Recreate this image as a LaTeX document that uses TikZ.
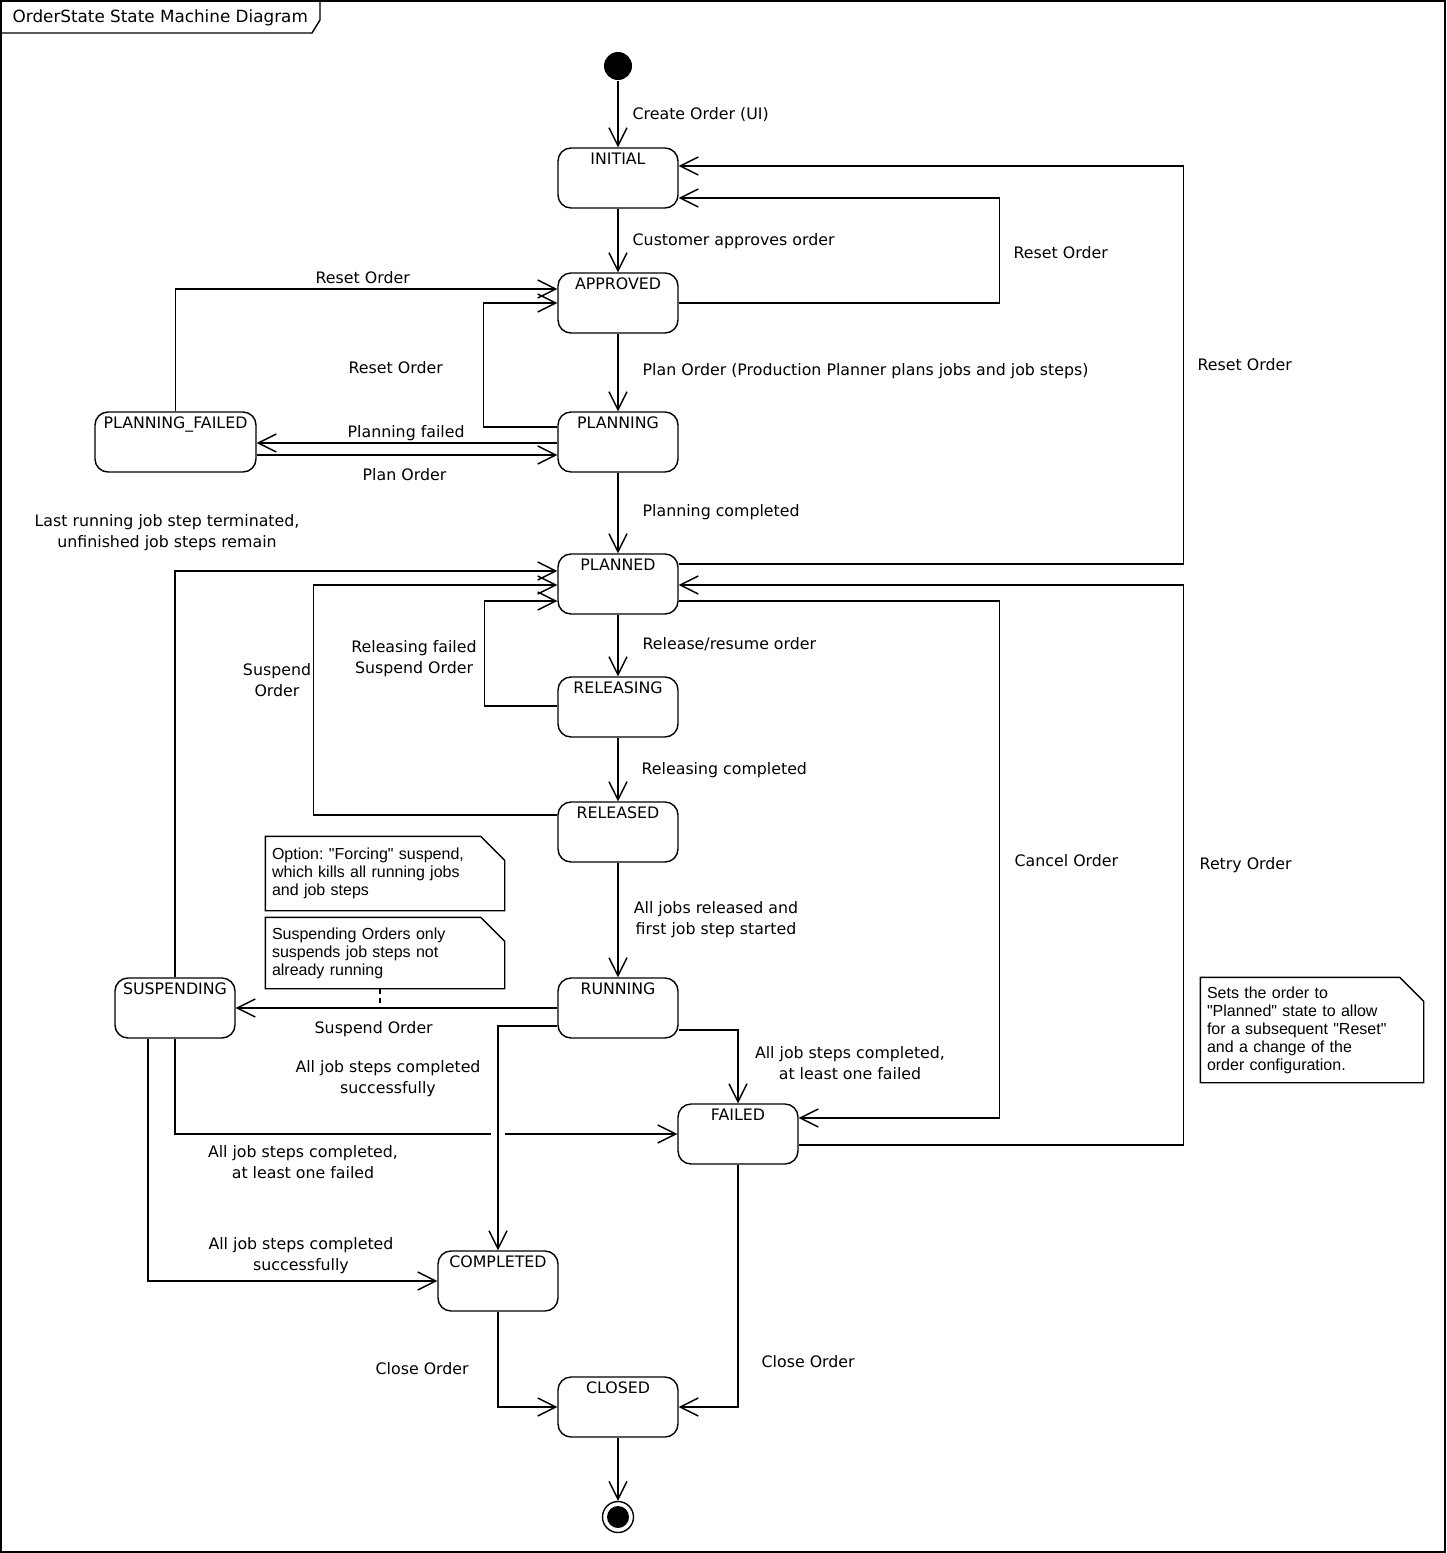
\documentclass[tikz,border=0pt]{standalone}
\usepackage{fontspec}
\setmainfont{DejaVu Sans}
\newfontfamily\notefont{Liberation Sans}
\usetikzlibrary{arrows.meta,calc}
\frenchspacing
\begin{document}
\begin{tikzpicture}[x=0.5pt,y=-0.5pt,
  font=\fontsize{7.9}{10.5}\selectfont,
  line width=0.7pt,
  state/.style={draw, rounded corners=6.5pt, minimum width=60pt, minimum height=30pt, inner sep=0pt},
  stname/.style={anchor=north, inner sep=0pt, yshift=-2.4pt},
  tr/.style={-{Straight Barb[length=9pt,width=9pt]}},
  lbl/.style={inner sep=0pt, anchor=west, yshift=-0.9pt},
  clbl/.style={inner sep=0pt, align=center, yshift=-0.9pt},
  note/.style={font=\notefont\fontsize{8}{9}\selectfont, align=left, inner xsep=3pt, inner ysep=2pt},
]
\newcommand\dogear[1]{\draw (#1.north west) -- ([xshift=-12pt]#1.north east) -- ([yshift=-12pt]#1.north east) -- (#1.south east) -- (#1.south west) -- cycle;}
\useasboundingbox (0,0) rectangle (1446,1553);
% frame
\draw (1,1) rectangle (1445,1552);
\draw (1,33) -- (312,33) -- (320,20) -- (320,1);
\node[lbl, font=\fontsize{8.4}{10.5}\selectfont] (title) at (12,16) {OrderState State Machine Diagram};

% states
\node[circle, fill, inner sep=0pt, minimum size=14pt] (init) at (618,66) {};
\node[state, label={[stname]north:INITIAL}] (initial) at (618,178) {};
\node[state, label={[stname]north:APPROVED}] (approved) at (618,303) {};
\node[state, label={[stname]north:PLANNING}] (planning) at (618,442) {};
\node[state, minimum width=80.5pt, label={[stname]north:PLANNING\_FAILED}] (pfailed) at (175.5,442) {};
\node[state, label={[stname]north:PLANNED}] (planned) at (618,584) {};
\node[state, label={[stname]north:RELEASING}] (releasing) at (618,707) {};
\node[state, label={[stname]north:RELEASED}] (released) at (618,832) {};
\node[state, label={[stname]north:RUNNING}] (running) at (618,1008) {};
\node[state, label={[stname]north:SUSPENDING}] (suspending) at (175,1008) {};
\node[state, label={[stname]north:FAILED}] (failed) at (738,1134) {};
\node[state, label={[stname]north:COMPLETED}] (completed) at (498,1281) {};
\node[state, label={[stname]north:CLOSED}] (closed) at (618,1407) {};
\node[circle, draw, inner sep=0pt, minimum size=15.5pt] (final) at (618,1517) {};
\node[circle, fill, inner sep=0pt, minimum size=11pt] (finaldot) at (final) {};

% notes
\node[note, minimum width=119pt, minimum height=36.5pt, text width=113pt] (n1) at (385,873.5)
  {Option: "Forcing" suspend,\\which kills all running jobs\\and job steps};
\dogear{n1}
\node[note, minimum width=119pt, minimum height=35pt, text width=113pt] (n2) at (385,953)
  {Suspending Orders only\\suspends job steps not\\already running};
\dogear{n2}
\node[note, minimum width=111pt, minimum height=52pt, text width=105pt] (n3) at (1312,1030)
  {Sets the order to\\"Planned" state to allow\\for a subsequent "Reset"\\and a change of the\\order configuration.};
\dogear{n3}
\coordinate (n2anchor) at ($(n2.south)+(-5,20)$);
\draw[dash pattern=on 2.5pt off 2pt] ($(n2.south)+(-5,0)$) -- (n2anchor);

% transitions
\draw[tr] (init) -- (initial);
\draw[tr] (initial) -- (approved);
\draw[tr] (approved.east) -- ++(321,0) |- ($(initial.east)+(0,20)$);
\draw[tr] ($(planned.east)+(0,-20)$) -- ++(505,0) |- ($(initial.east)+(0,-12)$);
\draw[tr] (approved) -- (planning);
\draw[tr] ($(planning.west)+(0,-15)$) -- ++(-74,0) |- (approved.west);
\draw[tr] (pfailed.north) |- ($(approved.west)+(0,-14)$);
\draw[tr] ($(planning.west)+(0,1)$) -- ($(pfailed.east)+(0,1)$);
\draw[tr] ($(pfailed.east)+(0,13)$) -- ($(planning.west)+(0,13)$);
\draw[tr] (planning) -- (planned);
\draw[tr] (suspending.north) |- ($(planned.west)+(0,-13)$);
\draw[tr] ($(released.west)+(0,-17)$) -- ++(-244,0) |- ($(planned.west)+(0,1)$);
\draw[tr] ($(releasing.west)+(0,-1)$) -- ++(-73,0) |- ($(planned.west)+(0,17)$);
\draw[tr] (planned) -- (releasing);
\draw[tr] (releasing) -- (released);
\draw[tr] (released) -- (running);
\draw[tr] (running.west) -- (suspending.east);
\draw[tr] ($(running.east)+(0,22)$) -| (failed.north);
\draw[tr] ($(planned.east)+(0,17)$) -- ++(321,0) |- ($(failed.east)+(0,-16)$);
\draw[tr] ($(failed.east)+(0,11)$) -- ++(385,0) |- ($(planned.east)+(0,1)$);
\draw[tr] (suspending.south) |- (failed.west);
\fill[white] ($(completed.north |- failed.west)+(-7,-4)$) rectangle ++(14,8);
\draw[tr] ($(running.west)+(0,18)$) -| (completed.north);
\draw[tr] ($(suspending.south)+(-27,0)$) |- (completed.west);
\draw[tr] (completed.south) |- (closed.west);
\draw[tr] (failed.south) |- (closed.east);
\draw[tr] (closed) -- (final);

% labels
\node[lbl] (l1) at (632,113) {Create Order (UI)};
\node[lbl] (l2) at (632,239) {Customer approves order};
\node[lbl] (l3) at (1013,251) {Reset Order};
\node[lbl] (l4) at (1197,363) {Reset Order};
\node[lbl] (l5) at (642,369) {Plan Order (Production Planner plans jobs and job steps)};
\node[lbl] (l6) at (348,366) {Reset Order};
\node[lbl] (l7) at (315,276) {Reset Order};
\node[lbl] (l8) at (347,431) {Planning failed};
\node[lbl] (l9) at (362,473) {Plan Order};
\node[lbl] (l10) at (642,510) {Planning completed};
\node[clbl] (l11) at (167,531) {Last running job step terminated,\\unfinished job steps remain};
\node[clbl] (l12) at (277,678) {Suspend\\Order};
\node[clbl] (l13) at (414,657) {Releasing failed\\Suspend Order};
\node[lbl] (l14) at (642,642) {Release/resume order};
\node[lbl] (l15) at (641,768) {Releasing completed};
\node[clbl] (l16) at (716,918) {All jobs released and\\first job step started};
\node[lbl] (l17) at (314,1027) {Suspend Order};
\node[clbl] (l18) at (388,1077) {All job steps completed\\successfully};
\node[clbl] (l19) at (850,1061) {All job steps completed,\\at least one failed};
\node[lbl] (l20) at (1014,859) {Cancel Order};
\node[lbl] (l21) at (1199,863) {Retry Order};
\node[clbl] (l22) at (303,1160) {All job steps completed,\\at least one failed};
\node[clbl] (l23) at (301,1254) {All job steps completed\\successfully};
\node[lbl] (l24) at (375,1367) {Close Order};
\node[lbl] (l25) at (761,1360) {Close Order};
\end{tikzpicture}
\end{document}
